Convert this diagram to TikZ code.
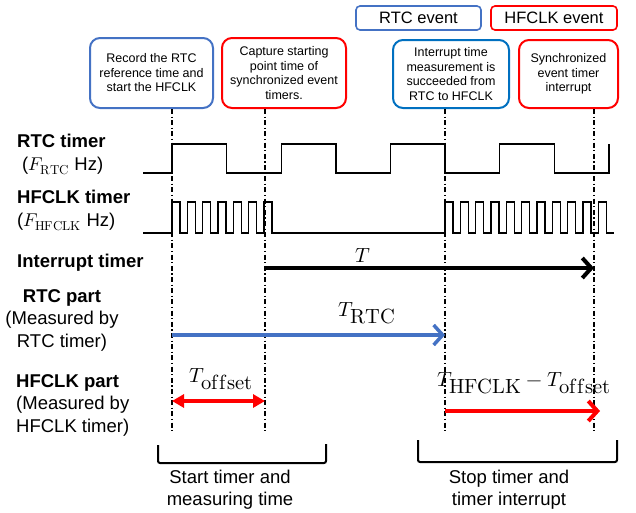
\documentclass[tikz,border=0pt]{standalone}
\usepackage{fontspec}
\usepackage{unicode-math}
\setmainfont{Liberation Sans}
\setmathfont{Latin Modern Math}
\usetikzlibrary{arrows.meta}
\definecolor{rtcblue}{HTML}{4472C4}
\definecolor{rtcdeep}{HTML}{0070C0}
\definecolor{hfred}{HTML}{FF0000}
\newcommand{\tsub}[1]{_{\textstyle\symup{#1}}}
\tikzset{
  evbox/.style={draw, line width=2pt, rounded corners=10pt, align=center, inner sep=0pt,
    font=\fontsize{12.5}{14.5}\selectfont},
  keybox/.style={draw, line width=1.6pt, rounded corners=4pt, inner sep=0pt,
    minimum height=24pt, font=\fontsize{16.5}{18}\selectfont},
  sig/.style={line width=1.3pt},
  guide/.style={line width=1.1pt, dash pattern=on 5pt off 2.5pt on 1.2pt off 2.5pt},
  lbl/.style={anchor=base west, inner sep=0pt, font=\fontsize{18.5}{22.5}\selectfont},
  lblb/.style={lbl, font=\fontsize{18.5}{22.5}\selectfont\bfseries},
  tlbl/.style={anchor=base, inner sep=0pt, font=\fontsize{20.5}{22}\selectfont},
  brace/.style={line width=2pt, rounded corners=2pt},
  barb/.style={-{Straight Barb[length=9pt,width=20pt]}},
}
\begin{document}
\begin{tikzpicture}[x=1pt,y=-1pt]
  \useasboundingbox (0,0) rectangle (636,512);
  % legend
  \node[keybox, draw=rtcblue, minimum width=125pt] (keyrtc) at (418.5,18) {RTC event};
  \node[keybox, draw=hfred, minimum width=126pt] (keyhf) at (554,18) {HFCLK event};
  % event boxes
  \node[evbox, draw=rtcblue, minimum width=123pt, minimum height=70pt] (rec) at (151.5,73)
    {Record the RTC\\reference time and\\start the HFCLK};
  \node[evbox, draw=hfred, minimum width=124pt, minimum height=70pt] (cap) at (284,73)
    {Capture starting\\point time of\\synchronized event\\timers.};
  \node[evbox, draw=rtcdeep, minimum width=116pt, minimum height=68pt] (hand) at (451,74)
    {Interrupt time\\measurement is\\succeeded from\\RTC to HFCLK};
  \node[evbox, draw=hfred, minimum width=99pt, minimum height=68pt] (sync) at (568.5,74)
    {Synchronized\\event timer\\interrupt};
  % guide lines
  \foreach \n/\x/\b in {g1/172/rec, g2/265/cap, g3/445/hand, g4/594/sync} {
    \coordinate (\n) at (\x,432);
    \draw[guide] (\b.south -| \n) -- (\n);
  }
  % timers
  \node[lblb] (rtclbl) at (17,147) {RTC timer};
  \node[lbl] (rtcf) at (22,170) {($F_{\symup{RTC}}$ Hz)};
  \node[lblb] (hflbl) at (17,203) {HFCLK timer};
  \node[lbl] (hff) at (17,226) {($F_{\symup{HFCLK}}$ Hz)};
  \draw[sig] (143,173) \foreach \x in {172,281.25,390.5,499.75} {
    -- (\x,173) -- (\x,144) -- (\x+54.6,144) -- (\x+54.6,173) } -- (609,173) -- (609,144);
  \draw[sig] (143,233) \foreach \x in {172,187.33,...,265} {
    -- (\x,233) -- (\x,202) -- (\x+8,202) -- (\x+8,233) } -- (445,233)
    \foreach \x in {445,460.33,...,600} {
    -- (\x,233) -- (\x,202) -- (\x+8,202) -- (\x+8,233) } -- (614,233);
  % interrupt timer
  \node[lblb] (intlbl) at (17,267) {Interrupt timer};
  \coordinate (tA) at (265,268);
  \coordinate (tB) at (594,268);
  \draw[line width=4pt, barb] (tA) -- (tB);
  \node[tlbl] (tT) at (363,262) {$T$};
  % RTC part
  \node[align=center, inner sep=0pt, font=\fontsize{18.5}{22.5}\selectfont] (rtcpart) at (62,320)
    {\textbf{RTC part}\\(Measured by\\RTC timer)};
  \coordinate (rA) at (172,335);
  \coordinate (rB) at (445,335);
  \draw[rtcblue, line width=3.5pt, barb] (rA) -- (rB);
  \node[tlbl] (tR) at (367,316) {$T\tsub{RTC}$};
  % HFCLK part
  \node[align=left, anchor=west, inner sep=0pt, font=\fontsize{18.5}{22.5}\selectfont] (hfpart) at (16,405)
    {\textbf{HFCLK part}\\(Measured by\\HFCLK timer)};
  \coordinate (oA) at (172,401);
  \coordinate (oB) at (265,401);
  \draw[hfred, line width=4pt, {Triangle[length=12pt,width=13pt]}-{Triangle[length=12pt,width=13pt]}] (oA) -- (oB);
  \node[tlbl] (tO) at (221,382) {$T\tsub{offset}$};
  \coordinate (hA) at (445,411);
  \coordinate (hB) at (600,411);
  \draw[hfred, line width=4pt, barb] (hA) -- (hB);
  \node[tlbl] (tH) at (524,386) {$T\tsub{HFCLK}-T\tsub{offset}$};
  % phases
  \draw[brace] (158,445) -- (158,463) -- (326,463) -- (326,444);
  \draw[brace] (418,440) -- (418,462) -- (617,462) -- (617,440);
  \node[align=center, inner sep=0pt, font=\fontsize{18.5}{22}\selectfont] (startlbl) at (230,490)
    {Start timer and\\measuring time};
  \node[align=center, inner sep=0pt, font=\fontsize{18.5}{22}\selectfont] (stoplbl) at (509,490)
    {Stop timer and\\timer interrupt};
\end{tikzpicture}
\end{document}
